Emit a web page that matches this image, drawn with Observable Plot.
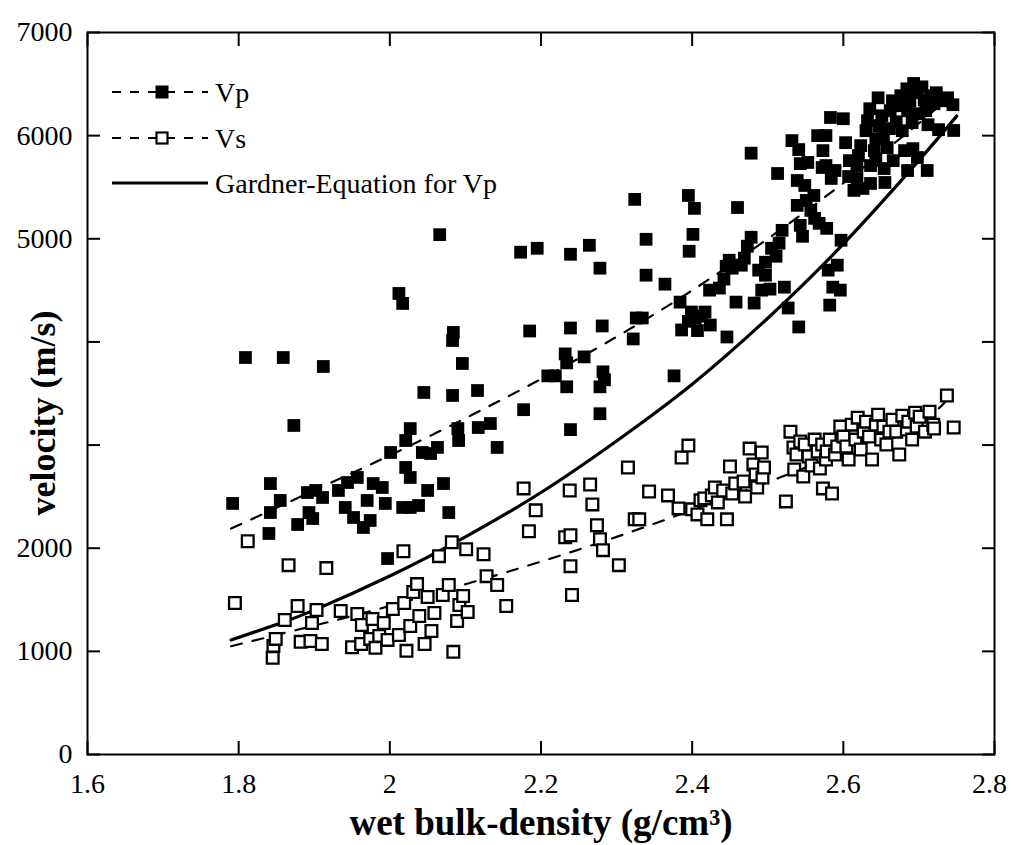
<!DOCTYPE html>
<html><head><meta charset="utf-8">
<script src="https://cdn.jsdelivr.net/npm/d3@7"></script>
<script src="https://cdn.jsdelivr.net/npm/@observablehq/plot@0.6"></script>
<style>
body{margin:0;background:#fff;}
#wrap{position:relative;width:1011px;height:845px;}
#wrap svg text{font-family:'Liberation Serif','Times New Roman',serif !important;}
#overlay{position:absolute;left:0;top:0;pointer-events:none;}
</style></head><body><div id="wrap"></div>
<script>
// ---- data ----
const vpDensity = [1.809,1.859,1.912,1.873,1.792,1.842,1.855,1.842,1.84,1.878,1.893,1.898,1.891,1.902,1.911,1.932,1.944,1.957,1.941,1.952,1.965,1.974,1.97,1.978,1.99,1.994,2.017,2.027,2.038,2.05,2.071,2.078,1.997,2.001,2.021,2.027,2.021,2.027,2.043,2.054,2.063,2.09,2.091,2.117,2.133,2.142,2.045,2.083,2.116,2.083,2.084,2.096,2.017,2.012,2.066,
2.177,2.173,2.195,2.185,2.209,2.219,2.232,2.234,2.239,2.239,2.234,2.239,2.257,2.264,2.278,2.281,2.282,2.284,2.278,2.278,
2.324,2.322,2.326,2.334,2.339,2.339,2.364,2.376,2.384,2.386,2.395,2.399,2.404,2.407,2.412,2.396,2.401,2.403,2.395,2.417,2.423,2.424,
2.436,2.442,2.446,2.445,2.449,2.453,2.458,2.465,2.469,2.473,2.478,2.482,2.478,2.488,2.492,2.497,2.497,2.503,2.505,2.511,2.515,2.519,2.522,2.527,2.532,2.541,2.543,2.539,2.543,2.546,2.541,2.549,2.551,2.557,2.561,2.562,2.568,2.566,2.573,2.577,
2.46,2.513,2.539,2.553,2.572,2.577,2.583,
2.578,2.58,2.582,2.586,2.592,2.596,2.597,2.584,2.589,2.6,2.603,2.608,2.607,2.614,2.618,2.618,2.62,2.623,2.626,2.63,2.632,2.635,2.636,2.641,2.643,2.643,2.646,2.647,2.651,2.653,2.654,2.655,2.658,2.661,2.662,2.665,2.666,2.67,2.673,2.676,2.678,2.681,2.684,2.685,2.688,2.691,2.692,2.697,2.7,2.704,2.707,2.709,2.712,2.711,2.716,2.72,2.723,2.726,2.731,2.738,2.746,2.745,2.693,2.698,2.685,2.636];
const vpVelocity = [3849,3849,3762,3190,2434,2627,2463,2346,2143,2230,2346,2288,2540,2560,2492,2560,2637,2686,2395,2298,2201,2269,2463,2627,2589,2434,2395,2395,2414,2560,2627,2346,1900,2928,2783,2686,3044,3160,2928,2918,2977,3160,3044,3170,3209,2977,3510,3481,3529,4014,4092,3791,4373,4470,5040,
3343,4870,4908,4106,3671,3671,3884,3797,4850,4135,3565,3150,3855,4937,4715,4155,3710,3633,3565,3304,
5382,4029,4232,4232,4995,4647,4560,3671,4386,4116,4200,4290,4230,4110,4250,4879,5043,5295,5420,4290,4502,4164,
4522,4609,4048,4734,4792,4715,4386,4744,4812,4928,5015,4377,5830,4696,4502,4647,4773,4512,4908,4831,4957,5082,4531,4329,5952,5865,5729,5324,5130,5024,4145,5517,5372,5275,5420,5198,5150,6000,5855,5710,
5303,5633,5565,5740,5691,6001,6176,
5101,4696,4357,4531,4744,4502,4986,5585,5662,6164,5932,5758,5604,5469,5585,5710,5807,5903,5488,6048,6145,6261,5710,5855,5971,5758,6367,6097,6193,6000,5681,5546,5884,6068,6242,6338,5758,6135,6290,6387,6048,5855,6454,6242,6338,6126,5874,6416,6213,6473,6348,6242,6106,5662,6387,6309,6416,6058,6338,6367,6050,6300,6506,5788,5662,5536];

const vsDensity = [1.795,1.812,1.845,1.846,1.849,1.861,1.866,1.878,1.882,1.895,1.897,1.903,1.91,1.916,1.935,1.95,1.957,1.963,1.962,1.974,1.977,1.981,1.986,1.992,1.997,2.004,2.012,2.018,2.019,2.022,2.027,2.031,2.036,2.039,2.046,2.05,2.055,2.059,2.065,2.07,2.078,2.082,2.084,2.089,2.092,2.097,2.101,2.103,2.124,2.128,2.142,2.154,
2.177,2.184,2.193,2.232,2.238,2.239,2.239,2.241,2.265,2.268,2.274,2.278,2.282,2.303,2.315,2.324,2.33,2.343,2.368,2.382,2.386,2.395,2.4,2.407,2.411,2.416,2.42,2.426,2.43,2.434,2.441,2.446,2.45,2.453,2.457,2.468,2.47,2.476,2.481,2.484,2.486,2.492,2.493,2.495,
2.524,2.53,2.534,2.535,2.538,2.543,2.547,2.549,2.554,2.558,2.562,2.566,2.569,2.572,2.573,2.577,2.578,2.582,2.585,2.589,2.592,2.596,2.6,2.604,2.607,2.611,2.616,2.619,2.623,2.627,2.63,2.634,2.638,2.643,2.646,2.65,2.653,2.657,2.661,2.665,2.67,2.674,2.678,2.684,2.686,2.691,2.695,2.697,2.701,2.708,2.714,2.719,2.72,2.737,2.746];
const vsVelocity = [1469,2068,937,1053,1121,1304,1836,1440,1092,1100,1275,1401,1072,1807,1391,1040,1362,1256,1072,1121,1314,1034,1150,1275,1111,1411,1159,1971,1469,1005,1246,1575,1652,1343,1072,1527,1198,1372,1923,1546,1643,2058,995,1295,1449,1536,1990,1382,1942,1729,1643,1440,
2580,2164,2367,2106,2560,2126,1826,1546,2618,2425,2222,2087,1981,1836,2783,2280,2280,2550,2512,2386,2879,2995,2377,2328,2464,2483,2280,2512,2589,2444,2560,2280,2792,2531,2628,2647,2502,2966,2812,2715,2589,2928,2686,2783,
2454,3130,2976,2763,2908,3034,2696,3005,2889,2802,3053,2937,2773,3005,2580,2860,2937,3053,2531,2908,2986,3179,3082,2986,2860,3198,3053,3266,2957,3130,3227,3082,2860,3198,3295,3053,3179,3005,3130,3246,3130,2908,3285,3150,3227,3053,3314,3179,3275,3130,3324,3198,3160,3480,3170];

// trend curves / Gardner curve
const vpTrendDensity = [1.79,1.9,2.0,2.1,2.2,2.3,2.4,2.5,2.6,2.7,2.745];
const vpTrendVelocity = [2190,2560,2900,3260,3640,4050,4500,5000,5540,6120,6410];
const vsTrendDensity = [1.79,1.9,2.0,2.1,2.2,2.3,2.4,2.5,2.6,2.7,2.735];
const vsTrendVelocity = [1050,1250,1440,1650,1870,2110,2370,2640,2930,3240,3420];
const gardnerDensity = [1.79,1.85,1.9,2.0,2.1,2.2,2.3,2.4,2.5,2.6,2.7,2.75];
const gardnerVelocity = [1110,1260,1400,1730,2110,2540,3040,3590,4230,4950,5760,6190];

const xTicks = [1.6,1.8,2,2.2,2.4,2.6,2.8];
const yTicks = [0,1000,2000,3000,4000,5000,6000,7000];
const yLabelTicks = [0,1000,2000,5000,6000,7000];
const legendLabels = ["Vp","Vs","Gardner-Equation for Vp"];
const xLabel = "wet bulk-density (g/cm³)";
const yLabel = "velocity (m/s)";

// ---- build tables ----
const zip = (xs, ys) => xs.map((d, i) => ({density: d, velocity: ys[i]}));
const vp = zip(vpDensity, vpVelocity);
const vs = zip(vsDensity, vsVelocity);
const vpTrend = zip(vpTrendDensity, vpTrendVelocity);
const vsTrend = zip(vsTrendDensity, vsTrendVelocity);
const gardner = zip(gardnerDensity, gardnerVelocity);

const W = 1011, H = 845, mL = 87, mR = 17, mT = 32, mB = 91;
const FONT = "'Liberation Serif','Times New Roman',serif";
const TICK = 13;

const plot = Plot.plot({
  width: W, height: H,
  marginLeft: mL, marginRight: mR, marginTop: mT, marginBottom: mB,
  x: {domain: [1.6, 2.8]},
  y: {domain: [0, 7000]},
  style: {fontFamily: FONT, fontSize: "28px", color: "#000", background: "#fff"},
  marks: [
    // inner ticks on all four sides
    Plot.axisX({anchor: "bottom", ticks: xTicks, tickSize: TICK, dy: -TICK, tickFormat: () => "", label: null, strokeWidth: 2}),
    Plot.axisX({anchor: "top", ticks: xTicks, tickSize: TICK, dy: TICK, tickFormat: () => "", label: null, strokeWidth: 2}),
    Plot.axisY({anchor: "left", ticks: yTicks, tickSize: TICK, dx: TICK, tickFormat: () => "", label: null, strokeWidth: 2}),
    Plot.axisY({anchor: "right", ticks: yTicks, tickSize: TICK, dx: -TICK, tickFormat: () => "", label: null, strokeWidth: 2}),
    // tick labels
    Plot.axisX({anchor: "bottom", ticks: xTicks, tickSize: 0, tickPadding: 19, tickFormat: d => String(d), label: null, fontSize: 28}),
    Plot.axisY({anchor: "left", ticks: yLabelTicks, tickSize: 0, tickPadding: 15, tickFormat: d => String(d), label: null, fontSize: 28}),
    // curves
    Plot.line(gardner, {x: "density", y: "velocity", curve: "natural", stroke: "#000", strokeWidth: 3.2}),
    Plot.line(vpTrend, {x: "density", y: "velocity", curve: "natural", stroke: "#000", strokeWidth: 2.2, strokeDasharray: "11,11"}),
    Plot.line(vsTrend, {x: "density", y: "velocity", curve: "natural", stroke: "#000", strokeWidth: 2.2, strokeDasharray: "11,11"}),
    // data points
    Plot.dot(vs, {x: "density", y: "velocity", symbol: "square", r: 6.6, fill: "#fff", stroke: "#000", strokeWidth: 2.3}),
    Plot.dot(vp, {x: "density", y: "velocity", symbol: "square", r: 7.2, fill: "#000", stroke: "none"}),
    Plot.frame({stroke: "#000", strokeWidth: 2})
  ]
});
const wrap = document.getElementById("wrap");
wrap.appendChild(plot);
// force the serif face on every tick label; keep the last x label inside the page
d3.select(plot).selectAll("text")
  .attr("font-family", FONT)
  .style("font-family", FONT)
  .style("font-variant", "normal");
d3.select(plot).selectAll("text").filter(function() { return this.textContent === "2.8"; })
  .attr("dx", -5);

// ---- overlay: axis titles and legend ----
const ov = d3.select(wrap).append("svg").attr("id", "overlay")
  .attr("width", W).attr("height", H).attr("font-family", FONT);
ov.append("text").attr("x", 541).attr("y", 835).attr("text-anchor", "middle")
  .attr("font-size", 37).attr("font-weight", "bold").text(xLabel);
ov.append("text").attr("transform", "translate(42,413) rotate(-90)").attr("text-anchor", "middle")
  .attr("dy", "0.35em").attr("font-size", 36).attr("font-weight", "bold").text(yLabel);

const rows = [
  {y: 92, kind: "filled"},
  {y: 138, kind: "open"},
  {y: 183, kind: "solid"}
];
rows.forEach((r, i) => {
  const g = ov.append("g");
  if (r.kind === "solid") {
    g.append("line").attr("x1", 112).attr("x2", 208).attr("y1", r.y).attr("y2", r.y)
      .attr("stroke", "#000").attr("stroke-width", 3.2);
  } else {
    g.append("line").attr("x1", 112).attr("x2", 208).attr("y1", r.y).attr("y2", r.y)
      .attr("stroke", "#000").attr("stroke-width", 2.2).attr("stroke-dasharray", "9,9");
    const s = r.kind === "filled" ? 13 : 11;
    g.append("rect").attr("x", 162 - s / 2).attr("y", r.y - s / 2).attr("width", s).attr("height", s)
      .attr("fill", r.kind === "filled" ? "#000" : "#fff")
      .attr("stroke", r.kind === "filled" ? "none" : "#000").attr("stroke-width", 2.2);
  }
  g.append("text").attr("x", 215).attr("y", r.y).attr("dy", "0.35em")
    .attr("font-size", 28).text(legendLabels[i]);
});
</script>
</body></html>
